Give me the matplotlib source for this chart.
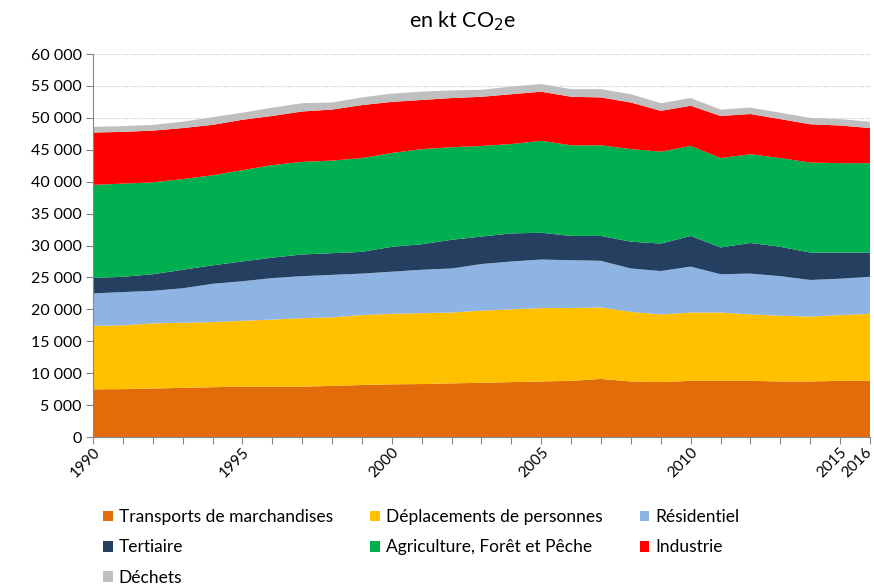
import matplotlib

matplotlib.use("Agg")
import matplotlib.pyplot as plt
from matplotlib.patches import Patch
from matplotlib.ticker import FuncFormatter, MultipleLocator
from matplotlib.transforms import ScaledTranslation

plt.rcParams["font.family"] = ["Lato", "DejaVu Sans"]

years = list(range(1990, 2017))

# kt CO2e per sector
transports = [7470, 7500, 7600, 7700, 7800, 7900, 7900, 7900, 8000, 8150, 8250, 8300, 8400, 8500,
              8600, 8700, 8800, 9100, 8700, 8600, 8800, 8800, 8800, 8700, 8700, 8800, 8800]
deplacements = [9930, 10000, 10200, 10200, 10200, 10300, 10500, 10700, 10750, 10950, 11050, 11100,
                11100, 11300, 11400, 11500, 11400, 11200, 10900, 10600, 10700, 10700, 10400, 10300,
                10150, 10300, 10500]
residentiel = [5100, 5200, 5100, 5400, 6000, 6200, 6500, 6600, 6650, 6500, 6600, 6800, 6900, 7300,
               7500, 7600, 7500, 7300, 6800, 6800, 7200, 6000, 6400, 6200, 5750, 5700, 5800]
tertiaire = [2400, 2400, 2600, 2900, 2900, 3100, 3200, 3400, 3400, 3400, 3900, 4000, 4500, 4300,
             4400, 4200, 3800, 3900, 4200, 4300, 4800, 4200, 4800, 4600, 4300, 4100, 3800]
agriculture = [14600, 14600, 14400, 14200, 14100, 14300, 14500, 14500, 14500, 14700, 14700, 14900,
               14500, 14200, 14000, 14400, 14200, 14200, 14500, 14400, 14100, 14000, 13900, 13900,
               14100, 14000, 14000]
industrie = [8200, 8100, 8100, 8000, 7900, 7900, 7700, 7900, 8000, 8300, 8000, 7700, 7700, 7700,
             7800, 7700, 7600, 7500, 7300, 6400, 6300, 6600, 6300, 6100, 6000, 5900, 5500]
dechets = [900, 900, 900, 1000, 1200, 1100, 1300, 1300, 1100, 1200, 1300, 1300, 1200, 1100, 1200,
           1200, 1200, 1300, 1300, 1200, 1200, 1000, 1000, 1000, 1000, 1000, 1000]

labels = ["Transports de marchandises", "Déplacements de personnes", "Résidentiel", "Tertiaire",
          "Agriculture, Forêt et Pêche", "Industrie", "Déchets"]
colors = ["#E36C0A", "#FFC000", "#8EB4E3", "#243F60", "#00B050", "#FF0000", "#BFBFBF"]
year_labels = [1990, 1995, 2000, 2005, 2010, 2015, 2016]

fig = plt.figure(figsize=(8.74, 5.84), dpi=100)
ax = fig.add_axes([0.1064, 0.2517, 0.889, 0.6558])

series = [transports, deplacements, residentiel, tertiaire, agriculture, industrie, dechets]
ax.stackplot(years, *series, colors=colors, linewidth=0, zorder=2)

ax.set_xlim(1990, 2016)
ax.set_ylim(0, 60000)
ax.yaxis.set_major_locator(MultipleLocator(5000))
ax.yaxis.set_major_formatter(FuncFormatter(lambda v, _: f"{int(v):,}".replace(",", " ")))
ax.grid(axis="y", color="#BFBFBF", linestyle=(0, (1, 1.5)), linewidth=0.8, zorder=0)

ax.set_xticks(years)
ax.set_xticklabels([str(y) if y in year_labels else "" for y in years],
                   rotation=45, ha="right", rotation_mode="anchor")
ax.tick_params(axis="x", length=5, color="#868686", labelsize=11, pad=1)
ax.tick_params(axis="y", length=5, color="#868686", labelsize=11.5, pad=3)

# nudge the last year label so it stays inside the canvas
last = ax.get_xticklabels()[-1]
last.set_transform(last.get_transform() + ScaledTranslation(-5 / 100, 0, fig.dpi_scale_trans))

for side in ("top", "right"):
    ax.spines[side].set_visible(False)
for side in ("left", "bottom"):
    ax.spines[side].set_color("#868686")
    ax.spines[side].set_zorder(3)

fig.text(0.53, 0.963, "en kt CO$_2$e", ha="center", va="center", fontsize=15.5)

handles = [Patch(facecolor=c, edgecolor="none") for c in colors]
order = [0, 3, 6, 1, 4, 2, 5]
fig.legend([handles[i] for i in order], [labels[i] for i in order],
           loc="upper left", bbox_to_anchor=(0.118, 0.128), ncol=3, frameon=False,
           fontsize=12.5, handlelength=0.55, handleheight=0.55, handletextpad=0.35,
           columnspacing=2.15, labelspacing=0.82, borderaxespad=0, borderpad=0)

fig.savefig("out.png", dpi=100)
